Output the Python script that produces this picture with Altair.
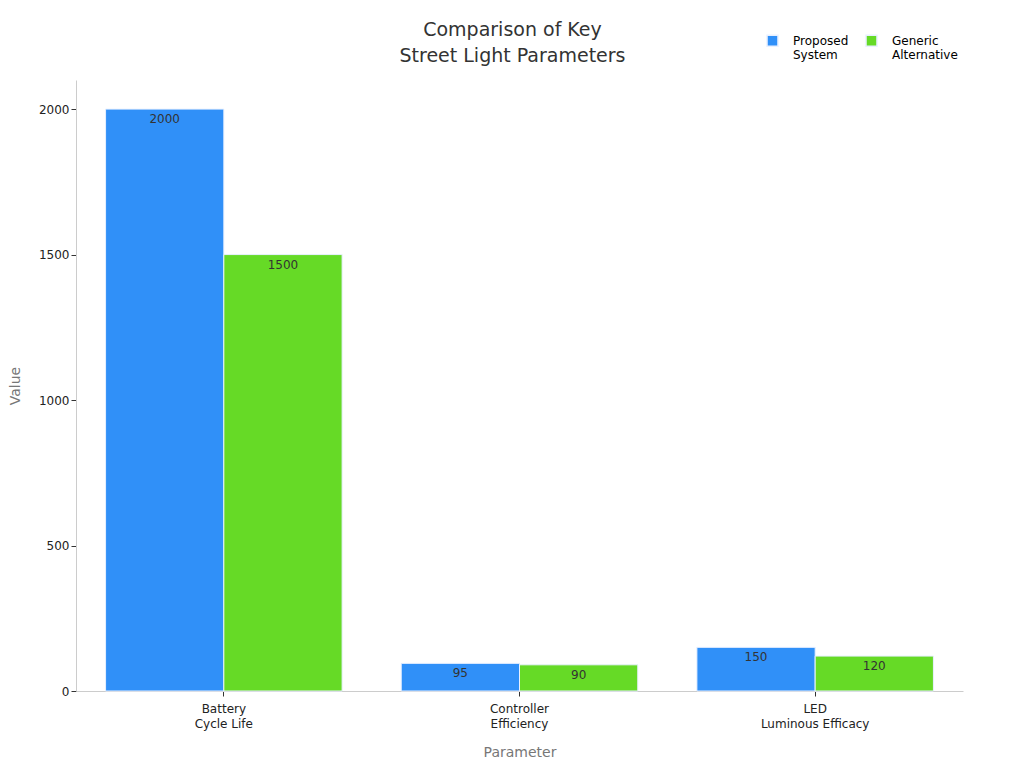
import altair as alt
import pandas as pd

parameters = ["Battery\nCycle Life", "Controller\nEfficiency", "LED\nLuminous Efficacy"]
systems = ["Proposed\nSystem", "Generic\nAlternative"]
proposed = [2000, 95, 150]
generic = [1500, 90, 120]

rows = []
for p, a, b in zip(parameters, proposed, generic):
    rows.append({"Parameter": p, "System": systems[0], "Value": a})
    rows.append({"Parameter": p, "System": systems[1], "Value": b})
df = pd.DataFrame(rows)

x = alt.X("Parameter:N", sort=parameters,
          scale=alt.Scale(paddingInner=0.2, paddingOuter=0.1),
          axis=alt.Axis(labelAngle=0, labelExpr="split(datum.label, '\\n')",
                        labelLineHeight=15, labelPadding=7,
                        title="Parameter", titlePadding=16))
x_off = alt.XOffset("System:N", sort=systems)
y = alt.Y("Value:Q", scale=alt.Scale(domain=[0, 2100], nice=False),
          axis=alt.Axis(values=[0, 500, 1000, 1500, 2000], grid=False, format="d",
                        title="Value", titlePadding=16))

bars = alt.Chart(df).mark_bar(stroke="#e8f0ff", strokeWidth=1).encode(
    x=x, xOffset=x_off, y=y,
    color=alt.Color("System:N", sort=systems,
                    scale=alt.Scale(domain=systems, range=["#3090f8", "#66da26"]),
                    legend=alt.Legend(title=None, orient="none", direction="horizontal",
                                      legendX=690, legendY=-46,
                                      labelExpr="split(datum.label, '\\n')",
                                      symbolType="square", symbolSize=120,
                                      labelOffset=14,
                                      labelFontSize=12, columnPadding=14)),
)

labels = alt.Chart(df).mark_text(baseline="top", dy=5, fontSize=12, color="#333333").encode(
    x=x, xOffset=x_off, y=y, text="Value:Q",
)

chart = (bars + labels).properties(
    width=887, height=611,
    title=alt.TitleParams(["Comparison of Key", "Street Light Parameters"],
                          fontSize=19, fontWeight="normal", color="#333333",
                          anchor="middle", frame="group", offset=12, dy=44, dx=-7,
                          lineHeight=26),
    autosize=alt.AutoSizeParams(type="none"),
    padding={"left": 68, "top": 72, "right": 30, "bottom": 70},
).configure(font="DejaVu Sans").configure_view(stroke=None).configure_axis(
    domainColor="#cccccc", tickColor="#333333", labelColor="#222222",
    labelFontSize=12, titleFontSize=14, titleColor="#777777", titleFontWeight="normal",
).configure_axisX(ticks=True, tickSize=5).configure_axisY(tickSize=5)

chart.save("out.html", embed_options={"renderer": "svg", "actions": False})
